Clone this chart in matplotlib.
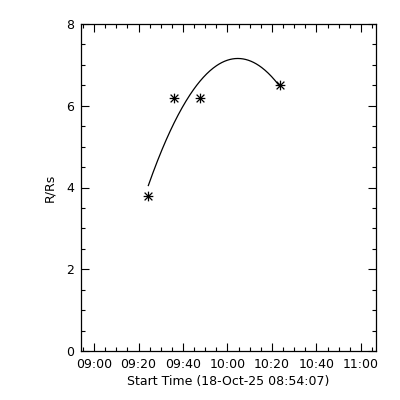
import numpy as np
import matplotlib
matplotlib.use("Agg")
import matplotlib.pyplot as plt
from matplotlib.path import Path
from matplotlib.ticker import MultipleLocator, FixedLocator

# Data: minutes after 09:00 and height in solar radii
t_min = [24.4, 35.9, 47.8, 83.7]
r_rs = [3.79, 6.2, 6.2, 6.5]
xtick_min = [0, 20, 40, 60, 80, 100, 120]
xtick_labels = ["09:00", "09:20", "09:40", "10:00", "10:20", "10:40", "11:00"]
ytick_vals = [0, 2, 4, 6, 8]
x_start = -5.883   # 08:54:07
x_end = 126.8

# quadratic fit of height vs time
coef = np.polyfit(t_min, r_rs, 2)
tt = np.linspace(t_min[0], t_min[-1], 200)
rr = np.polyval(coef, tt)

# IDL-style asterisk marker
verts = [(0, -1), (0, 1), (-0.8, -0.8), (0.8, 0.8), (-0.8, 0.8), (0.8, -0.8), (-1, 0), (1, 0)]
codes = [Path.MOVETO, Path.LINETO] * 4
star = Path(verts, codes)

fig = plt.figure(figsize=(4, 4), dpi=100)
ax = fig.add_axes([0.2025, 0.1225, 0.7375, 0.8175])
ax.plot(tt, rr, color="black", lw=0.9)
ax.plot(t_min, r_rs, linestyle="none", marker=star, ms=7, mec="black", mfc="none", mew=0.9)

ax.set_xlim(x_start, x_end)
ax.set_ylim(0, 8)
ax.xaxis.set_major_locator(FixedLocator(xtick_min))
ax.set_xticklabels(xtick_labels)
ax.xaxis.set_minor_locator(MultipleLocator(5))
ax.yaxis.set_major_locator(FixedLocator(ytick_vals))
ax.yaxis.set_minor_locator(MultipleLocator(0.5))
ax.tick_params(which="both", direction="in", top=True, right=True, labelsize=9, width=0.8, pad=5)
ax.tick_params(which="major", length=6)
ax.tick_params(which="minor", length=3)
for s in ax.spines.values():
    s.set_linewidth(0.9)
ax.set_xlabel("Start Time (18-Oct-25 08:54:07)", fontsize=9, labelpad=3)
ax.set_ylabel("R/Rs", fontsize=9, labelpad=7)
fig.savefig("out.png", dpi=100)
